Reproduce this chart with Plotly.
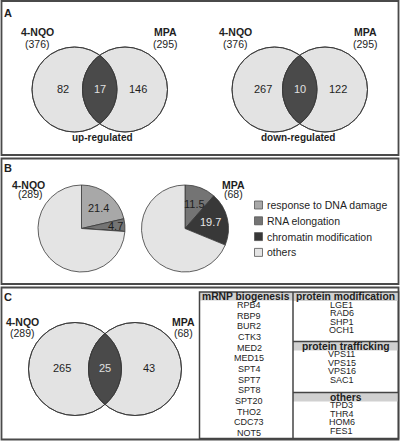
import math
import plotly.graph_objects as go

# ---------------- data ----------------
venn_sets = ["4-NQO", "MPA"]
venn_up_totals = [376, 295]
venn_up_counts = [82, 17, 146]
venn_down_totals = [376, 295]
venn_down_counts = [267, 10, 122]
venn_c_totals = [289, 68]
venn_c_counts = [265, 25, 43]

pie_categories = ["response to DNA damage", "RNA elongation", "chromatin modification", "others"]
pie_colors = ["#a8a8a8", "#747474", "#383838", "#e4e4e4"]
pie_nqo_total = 289
pie_nqo_values = [21.4, 4.7, 0, 73.9]
pie_mpa_total = 68
pie_mpa_values = [0, 11.5, 19.7, 68.8]

table_left_title = "mRNP biogenesis"
table_left_genes = ["RPB4", "RBP9", "BUR2", "CTK3", "MED2", "MED15", "SPT4",
                    "SPT7", "SPT8", "SPT20", "THO2", "CDC73", "NOT5"]
table_right_groups = ["protein modification", "protein trafficking", "others"]
table_right_genes = [["LGE1", "RAD6", "SHP1", "OCH1"],
                     ["VPS11", "VPS15", "VPS16", "SAC1"],
                     ["TPD3", "THR4", "HOM6", "FES1"]]

# ---------------- layout constants ----------------
W, H = 401, 441
FONT = "Liberation Sans, Arial, sans-serif"
TXT = "#1e1e1e"
EDGE = "#3a3a3a"
LIGHT = "#e3e3e3"
DARK = "#4a4a4a"

fig = go.Figure()
shapes = []
annotations = []


def ann(x, y, text, size=10.5, bold=False, color=TXT, xanchor="center"):
    annotations.append(dict(
        x=x, y=y, xref="x", yref="y", text=("<b>%s</b>" % text) if bold else text,
        showarrow=False, xanchor=xanchor, yanchor="middle", borderpad=0,
        font=dict(family=FONT, size=size, color=color)))


def lens_path(x1, x2, cy, r, n=40):
    d = x2 - x1
    a = math.acos((d / 2) / r)
    pts = []
    for i in range(n + 1):
        t = -a + 2 * a * i / n
        pts.append((x1 + r * math.cos(t), cy + r * math.sin(t)))
    for i in range(n + 1):
        t = math.pi - a + 2 * a * i / n
        pts.append((x2 + r * math.cos(t), cy + r * math.sin(t)))
    return "M " + " L ".join("%.2f,%.2f" % p for p in pts) + " Z"


def venn(x1, x2, cy, r, totals, counts, lab_y, tot_y, lab_x, num_size=11):
    for cx in (x1, x2):
        shapes.append(dict(type="circle", xref="x", yref="y", x0=cx - r, x1=cx + r,
                           y0=cy - r, y1=cy + r, fillcolor=LIGHT,
                           line=dict(color=EDGE, width=0.9), layer="below"))
    shapes.append(dict(type="path", xref="x", yref="y", path=lens_path(x1, x2, cy, r),
                       fillcolor=DARK, line=dict(color=EDGE, width=0.9), layer="below"))
    for cx in (x1, x2):
        shapes.append(dict(type="circle", xref="x", yref="y", x0=cx - r, x1=cx + r,
                           y0=cy - r, y1=cy + r, fillcolor="rgba(0,0,0,0)",
                           line=dict(color=EDGE, width=0.9), layer="below"))
    ann(lab_x[0], lab_y, venn_sets[0], bold=True)
    ann(lab_x[0], tot_y, "(%d)" % totals[0])
    ann(lab_x[1], lab_y, venn_sets[1], bold=True)
    ann(lab_x[1], tot_y, "(%d)" % totals[1])
    mid = (x1 + x2) / 2
    ann(x1 - 0.28 * r, cy - 1, str(counts[0]), size=num_size)
    ann(mid, cy - 1, str(counts[1]), size=num_size, color="#e0e0e0")
    ann(x2 + 0.3 * r, cy - 1, str(counts[2]), size=num_size)


# ---------------- panel borders ----------------
for y0, y1 in [(1, 155), (158.5, 284), (287.5, 439.5)]:
    shapes.append(dict(type="rect", xref="x", yref="y", x0=1.5, x1=398.5, y0=y0, y1=y1,
                       line=dict(color="#4a4a4a", width=1.8), fillcolor="rgba(0,0,0,0)"))

# ---------------- panel A ----------------
ann(8, 13, "A", size=11, bold=True)
venn(74.5, 125, 89.5, 42.5, venn_up_totals, venn_up_counts, 32, 44, (37, 165))
ann(102, 137, "up-regulated", size=10, bold=True)
venn(274.5, 325, 89.5, 42.5, venn_down_totals, venn_down_counts, 32, 44, (235, 365))
ann(298, 137, "down-regulated", size=10, bold=True)

# ---------------- panel B ----------------
ann(8, 168, "B", size=11, bold=True)
ann(28, 185, venn_sets[0], bold=True)
ann(30, 193.5, "(%d)" % pie_nqo_total)
ann(233, 185, venn_sets[1], bold=True)
ann(233, 193.5, "(%d)" % pie_mpa_total)

PIE_CY, PIE_R = 228.5, 43.5


def dom(cx, cy, r):
    return dict(x=[(cx - r) / W, (cx + r) / W], y=[1 - (cy + r) / H, 1 - (cy - r) / H])


for cx, vals in [(81.5, pie_nqo_values), (185, pie_mpa_values)]:
    fig.add_trace(go.Pie(
        labels=pie_categories, values=vals, sort=False, direction="clockwise", rotation=0,
        marker=dict(colors=pie_colors, line=dict(color=EDGE, width=0.8)),
        textinfo="none", domain=dom(cx, PIE_CY, PIE_R), showlegend=False,
        hoverinfo="label+percent"))
    total = sum(vals)
    cum = 0.0
    for i, v in enumerate(vals):
        if v > 0 and i < 3:
            mid_ang = 2 * math.pi * (cum + v / 2) / total
            rr = PIE_R * (0.61 if v / total > 0.08 else 0.78)
            ann(cx + rr * math.sin(mid_ang), PIE_CY - rr * math.cos(mid_ang), "%.1f" % v,
                size=11, color="#e6e6e6" if i == 2 else TXT)
        cum += v

# legend (manual)
for i, (lab, col) in enumerate(zip(pie_categories, pie_colors)):
    yy = 205 + i * 15.8
    shapes.append(dict(type="rect", xref="x", yref="y", x0=254.5, x1=262.5, y0=yy - 4, y1=yy + 4,
                       fillcolor=col, line=dict(color="#555555", width=0.8)))
    ann(266, yy, lab, size=10.5, xanchor="left")

# ---------------- panel C ----------------
ann(8, 297, "C", size=11, bold=True)
venn(75, 135, 369, 46.5, venn_c_totals, venn_c_counts, 322, 333, (22, 183))

# table
TL, TM, TR, TT, TB = 199.5, 293, 398.5, 292, 438.5
BAND = "#d0d0d0"
LINEC = "#444444"
shapes.append(dict(type="rect", xref="x", yref="y", x0=TL, x1=TM, y0=TT, y1=TT + 8.5,
                   fillcolor=BAND, line=dict(width=0)))
ann((TL + TM) / 2 - 0.5, TT + 4.3, table_left_title, size=10.3, bold=True)
for i, g in enumerate(table_left_genes):
    ann((TL + TM) / 2 + 3, 305 + i * 10.65, g, size=9)

group_tops = [TT, 341.5, 392.5]
for gi, (title, genes) in enumerate(zip(table_right_groups, table_right_genes)):
    top = group_tops[gi]
    shapes.append(dict(type="rect", xref="x", yref="y", x0=TM, x1=TR, y0=top, y1=top + 9,
                       fillcolor=BAND, line=dict(width=0)))
    if gi > 0:
        shapes.append(dict(type="line", xref="x", yref="y", x0=TM, x1=TR, y0=top, y1=top,
                           line=dict(color=LINEC, width=1.5)))
    ann((TM + TR) / 2, top + 4.5, title, size=10.3, bold=True)
    for i, g in enumerate(genes):
        ann((TM + TR) / 2 - 4, top + 12.5 + i * 8.6, g, size=9)

shapes.append(dict(type="rect", xref="x", yref="y", x0=TL, x1=TR, y0=TT, y1=TB,
                   fillcolor="rgba(0,0,0,0)", line=dict(color=LINEC, width=1.5)))
shapes.append(dict(type="line", xref="x", yref="y", x0=TM, x1=TM, y0=TT, y1=TB,
                   line=dict(color=LINEC, width=1.5)))

fig.update_layout(
    width=W, height=H, autosize=False,
    margin=dict(l=0, r=0, t=0, b=0, pad=0),
    paper_bgcolor="white", plot_bgcolor="white",
    xaxis=dict(range=[0, W], domain=[0, 1], visible=False, fixedrange=True),
    yaxis=dict(range=[H, 0], domain=[0, 1], visible=False, fixedrange=True),
    shapes=shapes, annotations=annotations,
    showlegend=False,
)
fig.write_html("out.html", config={"displayModeBar": False},
               post_script="document.body.style.margin='0';document.body.style.padding='0';")
